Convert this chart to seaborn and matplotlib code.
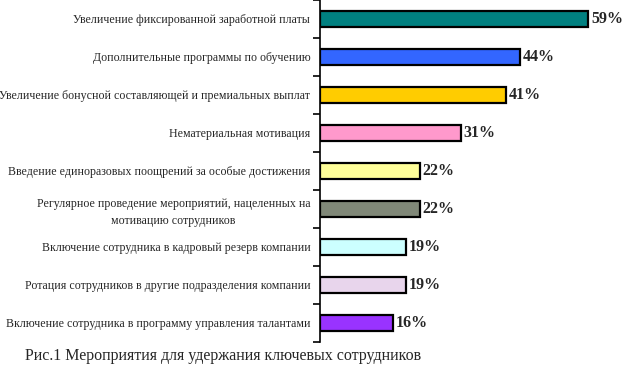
import numpy as np
import pandas as pd
import matplotlib
matplotlib.use("Agg")
import matplotlib.pyplot as plt
import seaborn as sns

categories = [
    "Увеличение фиксированной заработной платы",
    "Дополнительные программы по обучению",
    "Увеличение бонусной составляющей и премиальных выплат",
    "Нематериальная мотивация",
    "Введение единоразовых поощрений за особые достижения",
    "Регулярное проведение мероприятий, нацеленных на\nмотивацию сотрудников",
    "Включение сотрудника в кадровый резерв компании",
    "Ротация сотрудников в другие подразделения компании",
    "Включение сотрудника в программу управления талантами",
]
values = [59, 44, 41, 31, 22, 22, 19, 19, 16]
colors = ["#008080", "#3366FF", "#FFCC00", "#FF99CC", "#FFFF99",
          "#808878", "#CCFFFF", "#E8D5EC", "#9933FF"]
caption = "Рис.1 Мероприятия для удержания ключевых сотрудников"

sns.set_style("white")
plt.rcParams["font.family"] = ["Liberation Serif", "DejaVu Serif"]

df = pd.DataFrame({"cat": categories, "val": values})

fig = plt.figure(figsize=(6.27, 3.70), dpi=100)
ax = fig.add_axes([320 / 627, 28 / 370, 300 / 627, 342 / 370])

sns.barplot(data=df, x="val", y="cat", hue="cat", palette=colors,
            legend=False, width=0.42, edgecolor="black", linewidth=1.6,
            orient="h", ax=ax, saturation=1)

for cont in ax.containers:
    ax.bar_label(cont, fmt="%d%%", padding=2, fontsize=11.5, fontweight="bold")

ax.set_xlim(0, 66)
ax.set_ylim(len(categories) - 0.5, -0.5)
ax.set_xlabel("")
ax.set_ylabel("")
ax.set_xticks([])
for s in ["top", "right", "bottom"]:
    ax.spines[s].set_visible(False)
ax.spines["left"].set_color("black")
ax.spines["left"].set_linewidth(1.2)

ax.set_yticks(np.arange(len(categories)))
ax.set_yticklabels(categories, fontsize=8.6, multialignment="center", linespacing=1.5)
ax.set_yticks(np.arange(len(categories) + 1) - 0.5, minor=True)
ax.tick_params(axis="y", which="major", length=0, pad=7)
ax.tick_params(axis="y", which="minor", length=5, width=1.2, color="black", left=True)

fig.text(25 / 627, 1 - 356 / 370, caption, fontsize=11.5, va="center", ha="left")

fig.savefig("out.png", dpi=100)
